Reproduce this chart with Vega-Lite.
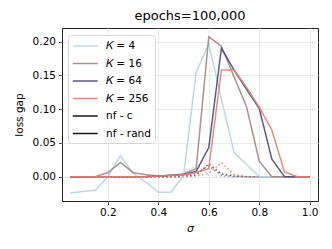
{
  "$schema": "https://vega.github.io/schema/vega-lite/v6.json",
  "width": 256,
  "height": 173,
  "autosize": {"type": "none"},
  "padding": {"left": 62, "top": 28, "right": 14, "bottom": 48},
  "background": "white",
  "config": {
    "font": "DejaVu Sans",
    "view": {"stroke": "#222222", "strokeWidth": 1},
    "axis": {
      "domain": false,
      "grid": true,
      "gridColor": "#ebebeb",
      "gridWidth": 1,
      "tickColor": "#222222",
      "tickSize": 3.5,
      "tickWidth": 0.8,
      "labelFont": "DejaVu Sans",
      "labelFontSize": 10.5,
      "labelColor": "#000000",
      "titleFont": "DejaVu Sans",
      "titleFontSize": 10.5,
      "titleFontWeight": "normal",
      "titleColor": "#000000"
    }
  },
  "title": {
    "text": "epochs=100,000",
    "fontSize": 13,
    "fontWeight": "normal",
    "font": "DejaVu Sans",
    "color": "#000000",
    "anchor": "middle",
    "offset": 5
  },
  "data": {
    "values": [
      {"sigma":0.05,"K":"𝐾 = 4","type":"nf - rand","gap":0},
      {"sigma":0.10,"K":"𝐾 = 4","type":"nf - rand","gap":0},
      {"sigma":0.15,"K":"𝐾 = 4","type":"nf - rand","gap":0},
      {"sigma":0.20,"K":"𝐾 = 4","type":"nf - rand","gap":-0.001},
      {"sigma":0.25,"K":"𝐾 = 4","type":"nf - rand","gap":-0.001},
      {"sigma":0.30,"K":"𝐾 = 4","type":"nf - rand","gap":0},
      {"sigma":0.35,"K":"𝐾 = 4","type":"nf - rand","gap":0},
      {"sigma":0.40,"K":"𝐾 = 4","type":"nf - rand","gap":0},
      {"sigma":0.45,"K":"𝐾 = 4","type":"nf - rand","gap":0.001},
      {"sigma":0.50,"K":"𝐾 = 4","type":"nf - rand","gap":0.004},
      {"sigma":0.55,"K":"𝐾 = 4","type":"nf - rand","gap":0.017},
      {"sigma":0.60,"K":"𝐾 = 4","type":"nf - rand","gap":0.002},
      {"sigma":0.65,"K":"𝐾 = 4","type":"nf - rand","gap":0},
      {"sigma":0.70,"K":"𝐾 = 4","type":"nf - rand","gap":0},
      {"sigma":0.75,"K":"𝐾 = 4","type":"nf - rand","gap":0},
      {"sigma":0.80,"K":"𝐾 = 4","type":"nf - rand","gap":0},
      {"sigma":0.85,"K":"𝐾 = 4","type":"nf - rand","gap":0},
      {"sigma":0.90,"K":"𝐾 = 4","type":"nf - rand","gap":0},
      {"sigma":0.95,"K":"𝐾 = 4","type":"nf - rand","gap":0},
      {"sigma":1.00,"K":"𝐾 = 4","type":"nf - rand","gap":0},

      {"sigma":0.05,"K":"𝐾 = 16","type":"nf - rand","gap":0},
      {"sigma":0.10,"K":"𝐾 = 16","type":"nf - rand","gap":0},
      {"sigma":0.15,"K":"𝐾 = 16","type":"nf - rand","gap":0},
      {"sigma":0.20,"K":"𝐾 = 16","type":"nf - rand","gap":0},
      {"sigma":0.25,"K":"𝐾 = 16","type":"nf - rand","gap":0},
      {"sigma":0.30,"K":"𝐾 = 16","type":"nf - rand","gap":0},
      {"sigma":0.35,"K":"𝐾 = 16","type":"nf - rand","gap":0},
      {"sigma":0.40,"K":"𝐾 = 16","type":"nf - rand","gap":0},
      {"sigma":0.45,"K":"𝐾 = 16","type":"nf - rand","gap":0},
      {"sigma":0.50,"K":"𝐾 = 16","type":"nf - rand","gap":0.001},
      {"sigma":0.55,"K":"𝐾 = 16","type":"nf - rand","gap":0.005},
      {"sigma":0.60,"K":"𝐾 = 16","type":"nf - rand","gap":0.016},
      {"sigma":0.65,"K":"𝐾 = 16","type":"nf - rand","gap":0.002},
      {"sigma":0.70,"K":"𝐾 = 16","type":"nf - rand","gap":0},
      {"sigma":0.75,"K":"𝐾 = 16","type":"nf - rand","gap":0},
      {"sigma":0.80,"K":"𝐾 = 16","type":"nf - rand","gap":0},
      {"sigma":0.85,"K":"𝐾 = 16","type":"nf - rand","gap":0},
      {"sigma":0.90,"K":"𝐾 = 16","type":"nf - rand","gap":0},
      {"sigma":0.95,"K":"𝐾 = 16","type":"nf - rand","gap":0},
      {"sigma":1.00,"K":"𝐾 = 16","type":"nf - rand","gap":0},

      {"sigma":0.05,"K":"𝐾 = 64","type":"nf - rand","gap":0},
      {"sigma":0.10,"K":"𝐾 = 64","type":"nf - rand","gap":0},
      {"sigma":0.15,"K":"𝐾 = 64","type":"nf - rand","gap":0},
      {"sigma":0.20,"K":"𝐾 = 64","type":"nf - rand","gap":0},
      {"sigma":0.25,"K":"𝐾 = 64","type":"nf - rand","gap":0},
      {"sigma":0.30,"K":"𝐾 = 64","type":"nf - rand","gap":0},
      {"sigma":0.35,"K":"𝐾 = 64","type":"nf - rand","gap":0},
      {"sigma":0.40,"K":"𝐾 = 64","type":"nf - rand","gap":0},
      {"sigma":0.45,"K":"𝐾 = 64","type":"nf - rand","gap":0},
      {"sigma":0.50,"K":"𝐾 = 64","type":"nf - rand","gap":0},
      {"sigma":0.55,"K":"𝐾 = 64","type":"nf - rand","gap":0.002},
      {"sigma":0.60,"K":"𝐾 = 64","type":"nf - rand","gap":0.019},
      {"sigma":0.65,"K":"𝐾 = 64","type":"nf - rand","gap":0.004},
      {"sigma":0.70,"K":"𝐾 = 64","type":"nf - rand","gap":0.001},
      {"sigma":0.75,"K":"𝐾 = 64","type":"nf - rand","gap":0},
      {"sigma":0.80,"K":"𝐾 = 64","type":"nf - rand","gap":0},
      {"sigma":0.85,"K":"𝐾 = 64","type":"nf - rand","gap":0},
      {"sigma":0.90,"K":"𝐾 = 64","type":"nf - rand","gap":0},
      {"sigma":0.95,"K":"𝐾 = 64","type":"nf - rand","gap":0},
      {"sigma":1.00,"K":"𝐾 = 64","type":"nf - rand","gap":0},

      {"sigma":0.05,"K":"𝐾 = 256","type":"nf - rand","gap":0},
      {"sigma":0.10,"K":"𝐾 = 256","type":"nf - rand","gap":0},
      {"sigma":0.15,"K":"𝐾 = 256","type":"nf - rand","gap":0},
      {"sigma":0.20,"K":"𝐾 = 256","type":"nf - rand","gap":0},
      {"sigma":0.25,"K":"𝐾 = 256","type":"nf - rand","gap":0},
      {"sigma":0.30,"K":"𝐾 = 256","type":"nf - rand","gap":0},
      {"sigma":0.35,"K":"𝐾 = 256","type":"nf - rand","gap":0},
      {"sigma":0.40,"K":"𝐾 = 256","type":"nf - rand","gap":0},
      {"sigma":0.45,"K":"𝐾 = 256","type":"nf - rand","gap":0},
      {"sigma":0.50,"K":"𝐾 = 256","type":"nf - rand","gap":0},
      {"sigma":0.55,"K":"𝐾 = 256","type":"nf - rand","gap":0.001},
      {"sigma":0.60,"K":"𝐾 = 256","type":"nf - rand","gap":0.005},
      {"sigma":0.65,"K":"𝐾 = 256","type":"nf - rand","gap":0.021},
      {"sigma":0.70,"K":"𝐾 = 256","type":"nf - rand","gap":0.003},
      {"sigma":0.75,"K":"𝐾 = 256","type":"nf - rand","gap":0},
      {"sigma":0.80,"K":"𝐾 = 256","type":"nf - rand","gap":0},
      {"sigma":0.85,"K":"𝐾 = 256","type":"nf - rand","gap":0},
      {"sigma":0.90,"K":"𝐾 = 256","type":"nf - rand","gap":0},
      {"sigma":0.95,"K":"𝐾 = 256","type":"nf - rand","gap":0},
      {"sigma":1.00,"K":"𝐾 = 256","type":"nf - rand","gap":0},

      {"sigma":0.05,"K":"𝐾 = 4","type":"nf - c","gap":-0.024},
      {"sigma":0.10,"K":"𝐾 = 4","type":"nf - c","gap":-0.022},
      {"sigma":0.15,"K":"𝐾 = 4","type":"nf - c","gap":-0.020},
      {"sigma":0.20,"K":"𝐾 = 4","type":"nf - c","gap":0.000},
      {"sigma":0.25,"K":"𝐾 = 4","type":"nf - c","gap":0.031},
      {"sigma":0.30,"K":"𝐾 = 4","type":"nf - c","gap":0.005},
      {"sigma":0.35,"K":"𝐾 = 4","type":"nf - c","gap":-0.008},
      {"sigma":0.40,"K":"𝐾 = 4","type":"nf - c","gap":-0.023},
      {"sigma":0.45,"K":"𝐾 = 4","type":"nf - c","gap":-0.023},
      {"sigma":0.50,"K":"𝐾 = 4","type":"nf - c","gap":0.002},
      {"sigma":0.55,"K":"𝐾 = 4","type":"nf - c","gap":0.155},
      {"sigma":0.60,"K":"𝐾 = 4","type":"nf - c","gap":0.196},
      {"sigma":0.65,"K":"𝐾 = 4","type":"nf - c","gap":0.115},
      {"sigma":0.70,"K":"𝐾 = 4","type":"nf - c","gap":0.036},
      {"sigma":0.75,"K":"𝐾 = 4","type":"nf - c","gap":0.018},
      {"sigma":0.80,"K":"𝐾 = 4","type":"nf - c","gap":0.000},
      {"sigma":0.85,"K":"𝐾 = 4","type":"nf - c","gap":0.000},
      {"sigma":0.90,"K":"𝐾 = 4","type":"nf - c","gap":0.000},
      {"sigma":0.95,"K":"𝐾 = 4","type":"nf - c","gap":0.000},
      {"sigma":1.00,"K":"𝐾 = 4","type":"nf - c","gap":0.000},

      {"sigma":0.05,"K":"𝐾 = 16","type":"nf - c","gap":-0.001},
      {"sigma":0.10,"K":"𝐾 = 16","type":"nf - c","gap":-0.001},
      {"sigma":0.15,"K":"𝐾 = 16","type":"nf - c","gap":0.000},
      {"sigma":0.20,"K":"𝐾 = 16","type":"nf - c","gap":0.006},
      {"sigma":0.25,"K":"𝐾 = 16","type":"nf - c","gap":0.021},
      {"sigma":0.30,"K":"𝐾 = 16","type":"nf - c","gap":0.006},
      {"sigma":0.35,"K":"𝐾 = 16","type":"nf - c","gap":0.003},
      {"sigma":0.40,"K":"𝐾 = 16","type":"nf - c","gap":0.001},
      {"sigma":0.45,"K":"𝐾 = 16","type":"nf - c","gap":0.002},
      {"sigma":0.50,"K":"𝐾 = 16","type":"nf - c","gap":0.004},
      {"sigma":0.55,"K":"𝐾 = 16","type":"nf - c","gap":0.012},
      {"sigma":0.60,"K":"𝐾 = 16","type":"nf - c","gap":0.207},
      {"sigma":0.65,"K":"𝐾 = 16","type":"nf - c","gap":0.193},
      {"sigma":0.70,"K":"𝐾 = 16","type":"nf - c","gap":0.148},
      {"sigma":0.75,"K":"𝐾 = 16","type":"nf - c","gap":0.103},
      {"sigma":0.80,"K":"𝐾 = 16","type":"nf - c","gap":0.023},
      {"sigma":0.85,"K":"𝐾 = 16","type":"nf - c","gap":0.000},
      {"sigma":0.90,"K":"𝐾 = 16","type":"nf - c","gap":0.000},
      {"sigma":0.95,"K":"𝐾 = 16","type":"nf - c","gap":0.000},
      {"sigma":1.00,"K":"𝐾 = 16","type":"nf - c","gap":0.000},

      {"sigma":0.05,"K":"𝐾 = 64","type":"nf - c","gap":0.000},
      {"sigma":0.10,"K":"𝐾 = 64","type":"nf - c","gap":0.000},
      {"sigma":0.15,"K":"𝐾 = 64","type":"nf - c","gap":0.000},
      {"sigma":0.20,"K":"𝐾 = 64","type":"nf - c","gap":0.000},
      {"sigma":0.25,"K":"𝐾 = 64","type":"nf - c","gap":0.000},
      {"sigma":0.30,"K":"𝐾 = 64","type":"nf - c","gap":0.000},
      {"sigma":0.35,"K":"𝐾 = 64","type":"nf - c","gap":0.000},
      {"sigma":0.40,"K":"𝐾 = 64","type":"nf - c","gap":0.001},
      {"sigma":0.45,"K":"𝐾 = 64","type":"nf - c","gap":0.002},
      {"sigma":0.50,"K":"𝐾 = 64","type":"nf - c","gap":0.003},
      {"sigma":0.55,"K":"𝐾 = 64","type":"nf - c","gap":0.008},
      {"sigma":0.60,"K":"𝐾 = 64","type":"nf - c","gap":0.043},
      {"sigma":0.65,"K":"𝐾 = 64","type":"nf - c","gap":0.190},
      {"sigma":0.70,"K":"𝐾 = 64","type":"nf - c","gap":0.158},
      {"sigma":0.75,"K":"𝐾 = 64","type":"nf - c","gap":0.129},
      {"sigma":0.80,"K":"𝐾 = 64","type":"nf - c","gap":0.101},
      {"sigma":0.85,"K":"𝐾 = 64","type":"nf - c","gap":0.026},
      {"sigma":0.90,"K":"𝐾 = 64","type":"nf - c","gap":0.000},
      {"sigma":0.95,"K":"𝐾 = 64","type":"nf - c","gap":0.000},
      {"sigma":1.00,"K":"𝐾 = 64","type":"nf - c","gap":0.000},

      {"sigma":0.05,"K":"𝐾 = 256","type":"nf - c","gap":0.000},
      {"sigma":0.10,"K":"𝐾 = 256","type":"nf - c","gap":0.000},
      {"sigma":0.15,"K":"𝐾 = 256","type":"nf - c","gap":0.000},
      {"sigma":0.20,"K":"𝐾 = 256","type":"nf - c","gap":0.000},
      {"sigma":0.25,"K":"𝐾 = 256","type":"nf - c","gap":0.000},
      {"sigma":0.30,"K":"𝐾 = 256","type":"nf - c","gap":0.000},
      {"sigma":0.35,"K":"𝐾 = 256","type":"nf - c","gap":0.000},
      {"sigma":0.40,"K":"𝐾 = 256","type":"nf - c","gap":0.001},
      {"sigma":0.45,"K":"𝐾 = 256","type":"nf - c","gap":0.002},
      {"sigma":0.50,"K":"𝐾 = 256","type":"nf - c","gap":0.003},
      {"sigma":0.55,"K":"𝐾 = 256","type":"nf - c","gap":0.006},
      {"sigma":0.60,"K":"𝐾 = 256","type":"nf - c","gap":0.012},
      {"sigma":0.65,"K":"𝐾 = 256","type":"nf - c","gap":0.158},
      {"sigma":0.70,"K":"𝐾 = 256","type":"nf - c","gap":0.158},
      {"sigma":0.75,"K":"𝐾 = 256","type":"nf - c","gap":0.132},
      {"sigma":0.80,"K":"𝐾 = 256","type":"nf - c","gap":0.103},
      {"sigma":0.85,"K":"𝐾 = 256","type":"nf - c","gap":0.069},
      {"sigma":0.90,"K":"𝐾 = 256","type":"nf - c","gap":0.007},
      {"sigma":0.95,"K":"𝐾 = 256","type":"nf - c","gap":0.000},
      {"sigma":1.00,"K":"𝐾 = 256","type":"nf - c","gap":0.000}
    ]
  },
  "mark": {"type": "line", "strokeWidth": 1.5, "opacity": 0.9},
  "encoding": {
    "x": {
      "field": "sigma",
      "type": "quantitative",
      "scale": {"domain": [0.018, 1.033], "nice": false, "zero": false},
      "axis": {
        "values": [0.2, 0.4, 0.6, 0.8, 1.0],
        "format": ".1f",
        "title": "σ",
        "titleFontStyle": "italic",
        "titleFontSize": 11,
        "titlePadding": 4,
        "labelPadding": 3
      }
    },
    "y": {
      "field": "gap",
      "type": "quantitative",
      "scale": {"domain": [-0.036, 0.22], "nice": false, "zero": false},
      "axis": {
        "values": [0, 0.05, 0.1, 0.15, 0.2],
        "format": ".2f",
        "title": "loss gap",
        "titlePadding": 8,
        "labelPadding": 3
      }
    },
    "color": {
      "field": "K",
      "type": "nominal",
      "scale": {
        "domain": ["𝐾 = 4", "𝐾 = 16", "𝐾 = 64", "𝐾 = 256", "nf - c", "nf - rand"],
        "range": ["#b3d6e2", "#a5847f", "#4d4878", "#e67f6c", "#000000", "#000000"]
      },
      "legend": {
        "title": null,
        "orient": "none",
        "legendX": 6,
        "legendY": 7,
        "fillColor": "rgba(255,255,255,0.85)",
        "strokeColor": "#d6d6d6",
        "cornerRadius": 3,
        "padding": 4,
        "symbolType": "M-1,0H3",
        "symbolSize": 156,
        "symbolStrokeWidth": 1.5,
        "labelFont": "DejaVu Sans",
        "labelFontSize": 10.5,
        "labelColor": "#000000",
        "labelOffset": 20,
        "rowPadding": 4.5,
        "encode": {
          "symbols": {
            "update": {
              "strokeDash": {"signal": "datum.value === 'nf - rand' ? [1.5, 2.5] : [1, 0]"}
            }
          }
        }
      }
    },
    "strokeDash": {
      "field": "type",
      "type": "nominal",
      "scale": {"domain": ["nf - c", "nf - rand"], "range": [[1, 0], [1.5, 2.5]]},
      "legend": null
    }
  }
}
